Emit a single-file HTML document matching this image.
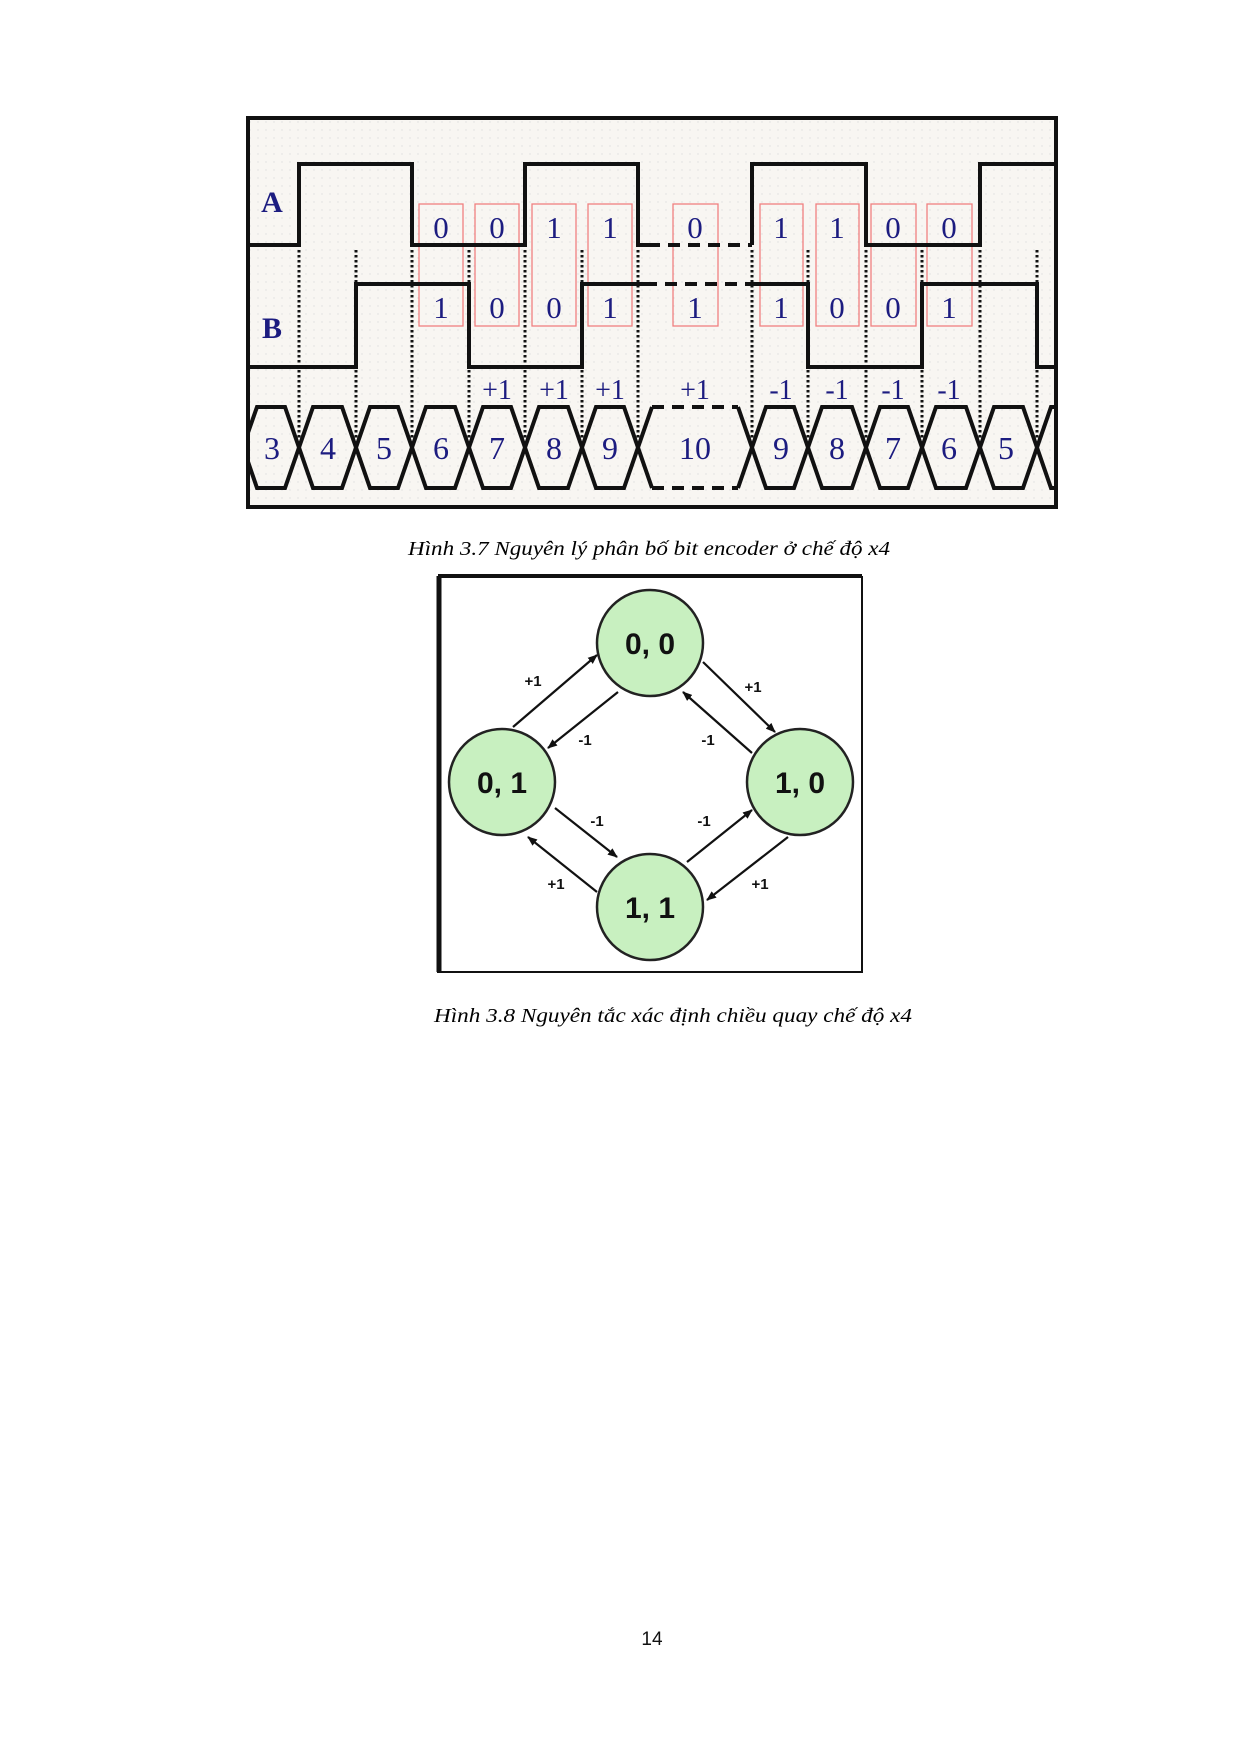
<!DOCTYPE html>
<html><head><meta charset="utf-8"><style>html,body{margin:0;padding:0;background:#fff}svg{display:block}</style></head>
<body>
<svg width="1240" height="1754" viewBox="0 0 1240 1754" xmlns="http://www.w3.org/2000/svg">
<defs>
<marker id="ah" markerWidth="10" markerHeight="8" refX="9" refY="4" orient="auto" markerUnits="userSpaceOnUse"><path d="M0,0 L10,4 L0,8 z" fill="#111"/></marker>
<pattern id="dots" width="8" height="8" patternUnits="userSpaceOnUse"><circle cx="2" cy="2" r="0.7" fill="#ddd"/></pattern>
<clipPath id="fc"><rect x="248" y="118" width="808" height="389"/></clipPath>
</defs>
<rect width="1240" height="1754" fill="#fff"/>
<rect x="248" y="118" width="808" height="389" fill="#f8f6f2"/>
<rect x="248" y="118" width="808" height="389" fill="url(#dots)"/>
<g clip-path="url(#fc)">
<g fill="none" stroke="#f08080" stroke-width="1.3">
<rect x="419" y="204" width="44" height="122"/><rect x="475" y="204" width="44" height="122"/>
<rect x="532" y="204" width="44" height="122"/><rect x="588" y="204" width="44" height="122"/>
<rect x="673" y="204" width="45" height="122"/>
<rect x="760" y="204" width="43" height="122"/><rect x="816" y="204" width="43" height="122"/>
<rect x="871" y="204" width="45" height="122"/><rect x="927" y="204" width="45" height="122"/>
</g>
<g stroke="#111" stroke-width="3" stroke-dasharray="2.5,2.5">
<line x1="299" y1="250" x2="299" y2="440"/><line x1="356" y1="250" x2="356" y2="440"/>
<line x1="412" y1="250" x2="412" y2="440"/><line x1="469" y1="250" x2="469" y2="440"/>
<line x1="525" y1="250" x2="525" y2="440"/><line x1="582" y1="250" x2="582" y2="440"/>
<line x1="638" y1="250" x2="638" y2="440"/>
<line x1="752" y1="250" x2="752" y2="440"/><line x1="808" y1="250" x2="808" y2="440"/>
<line x1="866" y1="250" x2="866" y2="440"/><line x1="922" y1="250" x2="922" y2="440"/>
<line x1="980" y1="250" x2="980" y2="440"/><line x1="1037" y1="250" x2="1037" y2="440"/>
</g>
<g fill="none" stroke="#111" stroke-width="4">
<polyline points="248,245 299,245 299,164 412,164 412,245 525,245 525,164 638,164 638,245 648,245"/>
<line x1="648" y1="245" x2="752" y2="245" stroke-dasharray="12,8"/>
<polyline points="752,245 752,164 866,164 866,245 980,245 980,164 1060,164"/>
<polyline points="248,367 356,367 356,284 469,284 469,367 582,367 582,284 645,284"/>
<line x1="645" y1="284" x2="752" y2="284" stroke-dasharray="12,8"/>
<polyline points="752,284 808,284 808,367 922,367 922,284 1037,284 1037,367 1060,367"/>
<polyline points="243,447 257,407 285,407 313,488 342,488 370,407 398,407 426,488 455,488 483,407 511,407 539,488 568,488 596,407 624,407 652,488"/>
<polyline points="243,447 257,488 285,488 313,407 342,407 370,488 398,488 426,407 455,407 483,488 511,488 539,407 568,407 596,488 624,488 652,407"/>
<line x1="652" y1="407" x2="738" y2="407" stroke-dasharray="12,8"/>
<line x1="652" y1="488" x2="738" y2="488" stroke-dasharray="12,8"/>
<polyline points="738,407 766,488 794,488 822,407 852,407 880,488 908,488 936,407 966,407 994,488 1023,488 1051,407 1070,407"/>
<polyline points="738,488 766,407 794,407 822,488 852,488 880,407 908,407 936,488 966,488 994,407 1023,407 1051,488 1070,488"/>
</g>
</g>
<rect x="248" y="118" width="808" height="389" fill="none" stroke="#111" stroke-width="4"/>
<g font-family="Liberation Serif, serif" fill="#1c1c80" font-size="30" text-anchor="middle">
<text x="272" y="212" font-weight="bold">A</text>
<text x="272" y="338" font-weight="bold">B</text>
<g font-size="31">
<text x="441" y="238">0</text><text x="497" y="238">0</text><text x="554" y="238">1</text><text x="610" y="238">1</text>
<text x="695" y="238">0</text><text x="781" y="238">1</text><text x="837" y="238">1</text><text x="893" y="238">0</text><text x="949" y="238">0</text>
<text x="441" y="318">1</text><text x="497" y="318">0</text><text x="554" y="318">0</text><text x="610" y="318">1</text>
<text x="695" y="318">1</text><text x="781" y="318">1</text><text x="837" y="318">0</text><text x="893" y="318">0</text><text x="949" y="318">1</text>
</g>
<g font-size="28">
<text x="497" y="399">+1</text><text x="554" y="399">+1</text><text x="610" y="399">+1</text><text x="695" y="399">+1</text>
<text x="781" y="399">-1</text><text x="837" y="399">-1</text><text x="893" y="399">-1</text><text x="949" y="399">-1</text>
</g>
<g font-size="32">
<text x="272" y="459">3</text><text x="328" y="459">4</text><text x="384" y="459">5</text><text x="441" y="459">6</text>
<text x="497" y="459">7</text><text x="554" y="459">8</text><text x="610" y="459">9</text><text x="695" y="459">10</text>
<text x="781" y="459">9</text><text x="837" y="459">8</text><text x="893" y="459">7</text><text x="949" y="459">6</text><text x="1006" y="459">5</text>
</g>
</g>
<text x="649" y="555" font-family="Liberation Serif, serif" font-style="italic" font-size="20" text-anchor="middle" textLength="482" lengthAdjust="spacingAndGlyphs">Hình 3.7 Nguyên lý phân bố bit encoder ở chế độ x4</text>
<rect x="438" y="577" width="424" height="395" fill="#fff" stroke="#111" stroke-width="2"/>
<line x1="438" y1="576" x2="862" y2="576" stroke="#111" stroke-width="4"/>
<line x1="439" y1="576" x2="439" y2="972" stroke="#111" stroke-width="5"/>
<g stroke="#111" stroke-width="2.2" marker-end="url(#ah)">
<line x1="513" y1="727" x2="597" y2="655"/>
<line x1="618" y1="692" x2="548" y2="748"/>
<line x1="703" y1="662" x2="775" y2="732"/>
<line x1="752" y1="753" x2="683" y2="692"/>
<line x1="555" y1="808" x2="617" y2="857"/>
<line x1="597" y1="892" x2="528" y2="837"/>
<line x1="687" y1="862" x2="752" y2="810"/>
<line x1="788" y1="837" x2="707" y2="900"/>
</g>
<g fill="#c8f0c0" stroke="#222" stroke-width="2.5">
<circle cx="650" cy="643" r="53"/><circle cx="502" cy="782" r="53"/>
<circle cx="800" cy="782" r="53"/><circle cx="650" cy="907" r="53"/>
</g>
<g font-family="Liberation Sans, sans-serif" font-weight="bold" fill="#111" text-anchor="middle">
<g font-size="30">
<text x="650" y="654">0, 0</text><text x="502" y="793">0, 1</text>
<text x="800" y="793">1, 0</text><text x="650" y="918">1, 1</text>
</g>
<g font-size="15">
<text x="533" y="686">+1</text><text x="585" y="745">-1</text>
<text x="753" y="692">+1</text><text x="708" y="745">-1</text>
<text x="597" y="826">-1</text><text x="704" y="826">-1</text>
<text x="556" y="889">+1</text><text x="760" y="889">+1</text>
</g>
</g>
<text x="673" y="1022" font-family="Liberation Serif, serif" font-style="italic" font-size="20" text-anchor="middle" textLength="478" lengthAdjust="spacingAndGlyphs">Hình 3.8 Nguyên tắc xác định chiều quay chế độ x4</text>
<text x="652" y="1645" font-family="Liberation Sans, sans-serif" font-size="19" text-anchor="middle" fill="#111">14</text>
</svg>
</body></html>
